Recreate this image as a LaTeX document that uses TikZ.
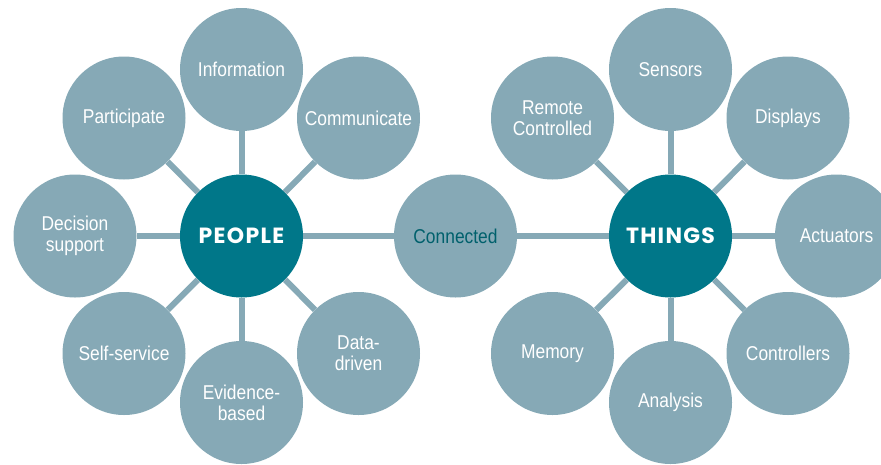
\documentclass[tikz,border=0pt]{standalone}
\usepackage{fontspec}
\setmainfont{Liberation Sans}[FakeStretch=0.87]
\newfontfamily\hdfont{Poppins}[LetterSpace=6]
\definecolor{satc}{HTML}{86A9B6}
\definecolor{hubc}{HTML}{007789}
\definecolor{darkc}{HTML}{00606C}
\begin{document}
\begin{tikzpicture}[x=1pt,y=-1pt,
  sat/.style={circle,fill=satc,minimum size=123pt,inner sep=0pt,align=center,text=white,font=\fontsize{20}{21}\selectfont},
  hub/.style={circle,fill=hubc,minimum size=123pt,inner sep=0pt,text=white,font=\hdfont\bfseries\fontsize{22}{23}\selectfont},
  link/.style={draw=satc,line width=6pt}]
\useasboundingbox (0,0) rectangle (881,464);
\clip (0,0) rectangle (881,464);
% hubs
\node[hub] (people) at (241.5,236) {PEOPLE};
\node[hub] (things) at (670.5,236) {THINGS};
\node[sat,text=darkc] (conn) at (455.5,236) {Connected};
% people satellites
\node[sat] (info) at (241.5,69.5) {Information};
\node[sat] (comm) at (358.5,118) {Communicate};
\node[sat] (part) at (124,118) {Participate};
\node[sat] (dec) at (75,236) {Decision\\support};
\node[sat] (self) at (124,353.5) {Self-service};
\node[sat] (evid) at (241.5,402.5) {Evidence-\\based};
\node[sat] (data) at (358.5,353.5) {Data-\\driven};
% things satellites
\node[sat] (sens) at (670.5,69.5) {Sensors};
\node[sat] (disp) at (788,118) {Displays};
\node[sat] (remo) at (552.5,118) {Remote\\Controlled};
\node[sat] (actu) at (836.5,236) {Actuators};
\node[sat] (ctrl) at (788,353.5) {Controllers};
\node[sat] (anal) at (670.5,402.5) {Analysis};
\node[sat] (memo) at (552.5,353.5) {Memory};
% links
\foreach \s in {info,comm,part,dec,self,evid,data,conn} \draw[link] (people) -- (\s);
\foreach \s in {sens,disp,remo,actu,ctrl,anal,memo,conn} \draw[link] (things) -- (\s);
\end{tikzpicture}
\end{document}
